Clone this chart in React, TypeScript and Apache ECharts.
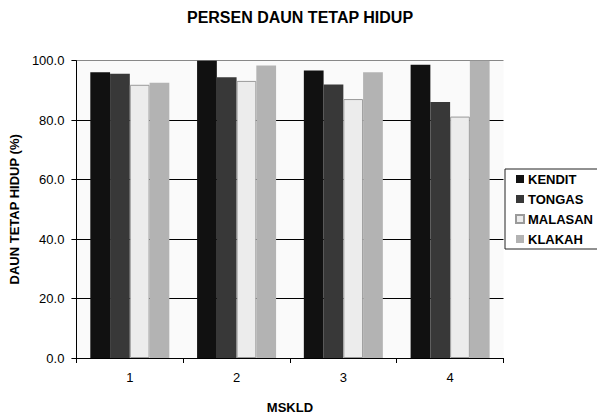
import React, { useEffect, useRef } from "react";
import * as echarts from "echarts";

const categories = ["1", "2", "3", "4"];
const seriesNames = ["KENDIT", "TONGAS", "MALASAN", "KLAKAH"];
const kendit = [96.1, 100.0, 96.7, 98.6];
const tongas = [95.6, 94.4, 92.0, 86.1];
const malasan = [91.9, 93.2, 87.1, 81.2];
const klakah = [92.6, 98.4, 96.1, 100.0];
const seriesValues = [kendit, tongas, malasan, klakah];
const fills = ["#111111", "#383838", "#ececec", "#b3b3b3"];
const borders = ["#111111", "#383838", "#9a9a9a", "#b3b3b3"];

const FONT = "'Liberation Sans', Arial, sans-serif";

export default function App() {
  const ref = useRef<HTMLDivElement>(null);
  useEffect(() => {
    if (!ref.current) return;
    const chart = echarts.init(ref.current, undefined, { renderer: "svg" });
    chart.setOption({
      animation: false,
      backgroundColor: "#ffffff",
      textStyle: { fontFamily: FONT },
      title: {
        text: "PERSEN DAUN TETAP HIDUP",
        left: 300,
        textAlign: "center",
        top: 9,
        padding: 0,
        textStyle: { fontFamily: FONT, fontSize: 16, fontWeight: "bold", color: "#000" },
      },
      legend: {
        orient: "vertical",
        left: 505,
        top: 169,
        padding: [3, 5, 3, 10],
        itemWidth: 8,
        itemHeight: 8,
        itemGap: 6,
        icon: "rect",
        backgroundColor: "#ffffff",
        borderColor: "#222",
        borderWidth: 1,
        borderRadius: 0,
        textStyle: { fontFamily: FONT, fontSize: 13, fontWeight: "bold", color: "#000", lineHeight: 14, padding: [0, 0, 0, -1] },
        data: seriesNames,
      },
      grid: {
        left: 75,
        right: 93.5,
        top: 60.7,
        bottom: 59,
        show: true,
        backgroundColor: "#fafafa",
        borderWidth: 0,
      },
      xAxis: {
        type: "category",
        data: categories,
        name: "MSKLD",
        nameLocation: "middle",
        nameGap: 43,
        nameTextStyle: { fontFamily: FONT, fontSize: 13, fontWeight: "bold", color: "#000" },
        axisLine: { show: true, lineStyle: { color: "#000", width: 1 } },
        axisTick: { show: true, alignWithLabel: false, length: 5, lineStyle: { color: "#000" } },
        axisLabel: { fontFamily: FONT, fontSize: 13, color: "#000", margin: 13 },
        splitLine: { show: false },
      },
      yAxis: {
        type: "value",
        min: 0,
        max: 100,
        interval: 20,
        name: "DAUN TETAP HIDUP (%)",
        nameLocation: "middle",
        nameGap: 55,
        nameRotate: 90,
        nameTextStyle: { fontFamily: FONT, fontSize: 13, fontWeight: "bold", color: "#000" },
        axisLine: { show: true, lineStyle: { color: "#000", width: 1 } },
        axisTick: { show: true, inside: false, length: 5, lineStyle: { color: "#000" } },
        axisLabel: {
          fontFamily: FONT,
          fontSize: 13,
          color: "#000",
          margin: 12,
          formatter: (v: number) => v.toFixed(1),
        },
        splitLine: {
          show: true,
          lineStyle: { color: ["#000", "#000", "#000", "#000", "#000", "#888"], width: 1 },
        },
      },
      series: seriesNames.map((name, i) => ({
        name,
        type: "bar",
        data: seriesValues[i],
        barGap: "0%",
        barCategoryGap: "26%",
        itemStyle: { color: fills[i], borderColor: borders[i], borderWidth: i === 2 ? 1 : 0 },
      })),
    });
    return () => chart.dispose();
  }, []);
  return (
    <div
      ref={ref}
      style={{ position: "fixed", left: 0, top: 0, width: 597, height: 419 }}
    />
  );
}
